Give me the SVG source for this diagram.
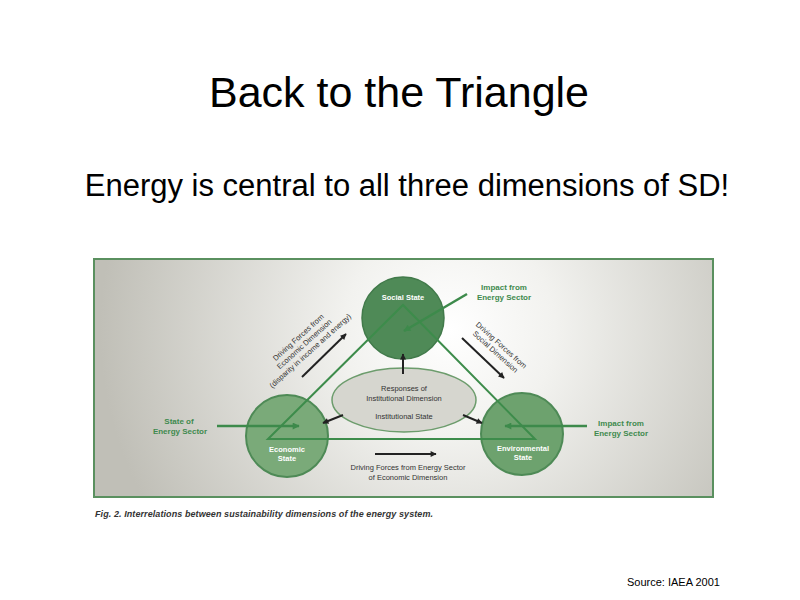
<svg xmlns="http://www.w3.org/2000/svg" width="800" height="600" viewBox="0 0 800 600">
<defs>
<radialGradient id="bg" gradientUnits="userSpaceOnUse" cx="450" cy="330" r="350">
<stop offset="0" stop-color="#ffffff"/>
<stop offset="0.3" stop-color="#f2f2ef"/>
<stop offset="1" stop-color="#c0bfb7"/>
</radialGradient>
<marker id="ab" viewBox="0 0 10 10" refX="9" refY="5" markerWidth="7" markerHeight="6" markerUnits="userSpaceOnUse" orient="auto">
<path d="M0,0 L10,5 L0,10 Z" fill="#222"/>
</marker>
<marker id="ag" viewBox="0 0 10 10" refX="9" refY="5" markerWidth="10" markerHeight="7" markerUnits="userSpaceOnUse" orient="auto">
<path d="M0,0 L10,5 L0,10 Z" fill="#3d8a4b"/>
</marker>
</defs>
<style>
.t{font-family:"Liberation Sans",Arial,sans-serif}
.lbl{font-family:"Liberation Sans",Arial,sans-serif;font-size:7.5px;fill:#333;text-anchor:middle}
.glbl{font-family:"Liberation Sans",Arial,sans-serif;font-size:8px;fill:#3f8a4e;text-anchor:middle;font-weight:bold}
.wlbl{font-family:"Liberation Sans",Arial,sans-serif;font-size:7.5px;fill:#fff;text-anchor:middle;font-weight:bold}
.tri{stroke:#3d8c4b;stroke-width:2;fill:none}
.blk{stroke:#222;stroke-width:2;fill:none;marker-end:url(#ab)}
.grn{stroke:#3d8a4b;stroke-width:2.5;fill:none;marker-end:url(#ag)}
</style>
<rect width="800" height="600" fill="#fff"/>
<text class="t" x="399" y="107" font-size="43" text-anchor="middle" fill="#000">Back to the Triangle</text>
<text class="t" x="407" y="196" font-size="31" text-anchor="middle" fill="#000">Energy is central to all three dimensions of SD!</text>

<g id="frame">
<rect x="94" y="259" width="619" height="238" fill="url(#bg)" stroke="#5a905f" stroke-width="2"/>
</g>

<g id="social">
<circle cx="403" cy="318" r="41" fill="#4f8a57" stroke="#417a4a" stroke-width="1.5"/>
<text class="wlbl" x="403" y="300">Social State</text>
</g>
<g id="economic">
<circle cx="287" cy="436" r="41" fill="#7aaa79" stroke="#4e8a56" stroke-width="2"/>
<text class="wlbl" x="287" y="452">Economic</text>
<text class="wlbl" x="287" y="461">State</text>
</g>
<g id="environmental">
<circle cx="522" cy="434" r="41" fill="#6da26e" stroke="#4e8a56" stroke-width="2"/>
<text class="wlbl" x="523" y="451">Environmental</text>
<text class="wlbl" x="523" y="460">State</text>
</g>
<g id="institutional">
<ellipse cx="404" cy="400" rx="72" ry="32" fill="#d6d6cf" stroke="#6c9c6c" stroke-width="1.5"/>
<text class="lbl" x="404" y="391">Responses of</text>
<text class="lbl" x="404" y="401">Institutional Dimension</text>
<text class="lbl" x="404" y="419">Institutional State</text>
</g>

<g id="connectors">
<path class="tri" d="M268,439 L403,305 L535,439 Z"/>
<line class="grn" x1="467" y1="294" x2="404" y2="331"/>
<line class="grn" x1="217" y1="426" x2="299" y2="426"/>
<line class="grn" x1="587" y1="426" x2="505" y2="426"/>
<line class="blk" x1="403" y1="374" x2="403" y2="354"/>
<line class="blk" x1="343" y1="415" x2="323" y2="423"/>
<line class="blk" x1="463" y1="415" x2="482" y2="423"/>
<line class="blk" x1="302" y1="377" x2="346" y2="334"/>
<line class="blk" x1="462" y1="338" x2="504" y2="378"/>
<line class="blk" x1="375" y1="454" x2="436" y2="454"/>
</g>

<g id="labels">
<text class="glbl" x="504" y="290">Impact from</text>
<text class="glbl" x="504" y="300">Energy Sector</text>
<text class="glbl" x="179" y="424">State of</text>
<text class="glbl" x="180" y="434">Energy Sector</text>
<text class="glbl" x="621" y="426">Impact from</text>
<text class="glbl" x="621" y="436">Energy Sector</text>
<g transform="translate(306,346) rotate(-42)">
<text class="lbl" x="0" y="-9">Driving Forces from</text>
<text class="lbl" x="0" y="0">Economic Dimension</text>
<text class="lbl" x="0" y="9">(disparity in income and energy)</text>
</g>
<g transform="translate(497,350) rotate(42)">
<text class="lbl" x="0" y="-4">Driving Forces from</text>
<text class="lbl" x="0" y="5">Social Dimension</text>
</g>
<text class="lbl" x="408" y="470">Driving Forces from Energy Sector</text>
<text class="lbl" x="408" y="480">of Economic Dimension</text>
</g>

<text class="t" x="95" y="517" font-size="9" font-style="italic" font-weight="bold" fill="#333" textLength="338">Fig. 2.  Interrelations between sustainability dimensions of the energy system.</text>
<text class="t" x="627" y="586" font-size="11" fill="#000">Source: IAEA 2001</text>
</svg>
